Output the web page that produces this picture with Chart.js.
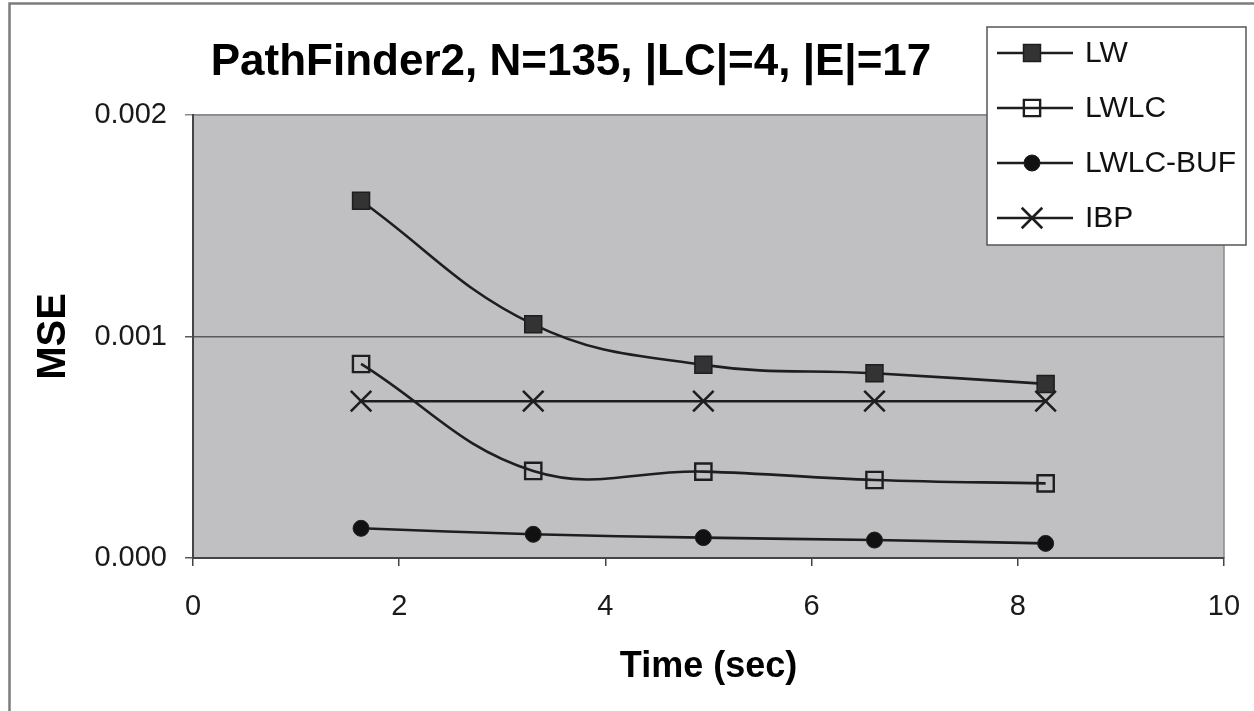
<!DOCTYPE html>
<html>
<head>
<meta charset="utf-8">
<script src="https://cdn.jsdelivr.net/npm/chart.js@4/dist/chart.umd.min.js"></script>
<style>
  html, body { margin:0; padding:0; background:#fff; }
  canvas { display:block; }
</style>
</head>
<body>
<canvas id="mseChart" width="1254" height="711"></canvas>
<script>
// PathFinder2 run: mean squared error against elapsed time

var TITLE = 'PathFinder2, N=135, |LC|=4, |E|=17';
var TIMES = [1.63, 3.3, 4.95, 6.61, 8.27];
var LW = [0.001613, 0.001055, 0.000872, 0.000834, 0.000786];
var LWLC = [0.000876, 0.000393, 0.000390, 0.000352, 0.000337];
var LWLC_BUF = [0.000134, 0.000107, 0.000092, 0.000081, 0.000066];
var IBP = [0.000708, 0.000708, 0.000708, 0.000708, 0.000708];
var Y_TICKS = [0, 0.001, 0.002];
var X_TICKS = [0, 2, 4, 6, 8, 10];

var FONT = "'Liberation Sans', Arial, Helvetica, sans-serif";
var INK = '#1e1e1e';

function pts(ys) {
  return ys.map(function(y, i){ return {x: TIMES[i], y: y}; });
}

// marker look per series, shared by the plot and the legend
var SERIES = [
  {label:'LW',       data:LW,       style:'rect',     radius:12, fill:'#333',     bw:1.5},
  {label:'LWLC',     data:LWLC,     style:'rect',     radius:11.5, fill:'rgba(0,0,0,0)', bw:2.4},
  {label:'LWLC-BUF', data:LWLC_BUF, style:'circle',   radius:8, fill:'#111',      bw:1},
  {label:'IBP',      data:IBP,      style:'crossRot', radius:14.5, fill:'#222',   bw:2.6}
];

var decor = {
  id:'decor',
  beforeDraw: function(chart) {
    var ctx = chart.ctx, a = chart.chartArea;
    ctx.save();
    ctx.fillStyle = '#fff';
    ctx.fillRect(0, 0, chart.width, chart.height);
    // outer frame (only left and top edges fall inside the canvas)
    ctx.strokeStyle = '#7c7c7c';
    ctx.lineWidth = 2.5;
    ctx.beginPath();
    ctx.moveTo(9.5, chart.height); ctx.lineTo(9.5, 3.5); ctx.lineTo(chart.width, 3.5);
    ctx.stroke();
    // plot area
    ctx.fillStyle = '#c0c0c2';
    ctx.fillRect(a.left, a.top, a.right - a.left, a.bottom - a.top);
    ctx.strokeStyle = '#8a8a8a';
    ctx.lineWidth = 1.5;
    ctx.beginPath();
    ctx.moveTo(a.left, a.top); ctx.lineTo(a.right, a.top); ctx.lineTo(a.right, a.bottom);
    ctx.stroke();
    ctx.restore();
  },
  afterDraw: function(chart) {
    var ctx = chart.ctx;
    ctx.save();
    // title
    ctx.fillStyle = '#000';
    ctx.font = 'bold 44px ' + FONT;
    ctx.textAlign = 'center';
    ctx.textBaseline = 'alphabetic';
    ctx.fillText(TITLE, 571, 75);
    // legend box
    ctx.fillStyle = '#fff';
    ctx.fillRect(987, 27, 259, 218);
    ctx.strokeStyle = '#555';
    ctx.lineWidth = 1.5;
    ctx.strokeRect(987, 27, 259, 218);
    ctx.font = '30px ' + FONT;
    ctx.textAlign = 'left';
    ctx.textBaseline = 'middle';
    SERIES.forEach(function(s, i) {
      var y = 53 + i * 55;
      ctx.strokeStyle = INK;
      ctx.lineWidth = 2.6;
      ctx.beginPath(); ctx.moveTo(997, y); ctx.lineTo(1073, y); ctx.stroke();
      ctx.fillStyle = s.fill;
      ctx.strokeStyle = INK;
      ctx.lineWidth = s.bw;
      Chart.helpers.drawPoint(ctx, {pointStyle:s.style, radius:s.radius, rotation:0, borderWidth:s.bw}, 1032, y);
      ctx.fillStyle = '#111';
      ctx.fillText(s.label, 1085, y + 1);
    });
    ctx.restore();
  }
};

new Chart(document.getElementById('mseChart'), {
  type:'line',
  data:{
    datasets: SERIES.map(function(s) {
      return {
        label:s.label, data:pts(s.data),
        borderColor:INK, borderWidth:2.6, tension:0.4,
        pointStyle:s.style, pointRadius:s.radius, pointBorderWidth:s.bw,
        pointBackgroundColor:s.fill, pointBorderColor:INK
      };
    })
  },
  options:{
    responsive:false, animation:false, devicePixelRatio:1,
    layout:{padding:{top:115, right:30, left:0, bottom:0}},
    plugins:{legend:{display:false}, title:{display:false}, tooltip:{enabled:false}},
    scales:{
      x:{
        type:'linear', min:0, max:10,
        afterBuildTicks:function(ax){ ax.ticks = X_TICKS.map(function(v){ return {value:v}; }); },
        afterFit:function(ax){ ax.height = 153; ax.paddingLeft = 0; ax.paddingRight = 0; },
        grid:{drawOnChartArea:false, color:'#444', lineWidth:1.5, tickLength:8},
        border:{color:'#444', width:2},
        ticks:{color:'#1a1a1a', font:{family:FONT, size:29}, padding:24, maxRotation:0},
        title:{display:true, text:'Time (sec)', color:'#000', font:{family:FONT, size:36, weight:'bold'}, padding:{top:0, bottom:22}}
      },
      y:{
        min:0, max:0.002,
        afterBuildTicks:function(ax){ ax.ticks = Y_TICKS.map(function(v){ return {value:v}; }); },
        afterFit:function(ax){ ax.width = 193; ax.paddingTop = 0; ax.paddingBottom = 0; },
        grid:{color:function(c){ return c.tick && c.tick.value === 0.002 ? '#8a8a8a' : '#5a5a5a'; }, lineWidth:1.5, tickLength:8},
        border:{color:'#444', width:2},
        ticks:{color:'#1a1a1a', font:{family:FONT, size:29}, padding:18, callback:function(v){ return v.toFixed(3); }},
        title:{display:true, text:'MSE', color:'#000', font:{family:FONT, size:40, weight:'bold'}, padding:{top:30, bottom:0}}
      }
    }
  },
  plugins:[decor]
});
</script>
</body>
</html>
